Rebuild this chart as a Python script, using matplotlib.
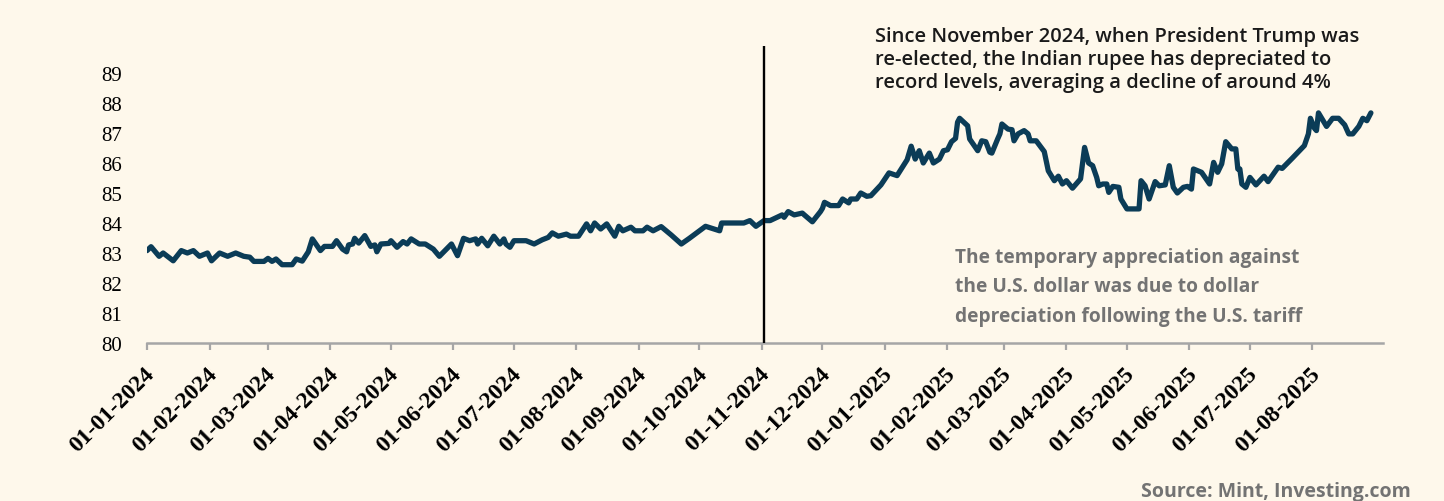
import matplotlib
matplotlib.use('Agg')
import matplotlib.pyplot as plt
import matplotlib.transforms as mtransforms
import pandas as pd

# ---------------- data ----------------
start_date = '2024-01-01'
day_offsets = [
    0, 2, 6, 8, 13, 17, 20, 23, 26, 30, 32, 36, 40, 44, 48, 51, 53, 58, 60, 62,
    64, 67, 72, 74, 77, 80, 82, 86, 88, 92, 94, 97, 99, 100, 102, 103, 105, 108,
    111, 113, 114, 116, 120, 121, 124, 127, 129, 131, 135, 138, 142, 145, 151,
    154, 157, 160, 163, 164, 166, 169,
    172, 175, 177, 178, 180, 182, 188, 192, 196, 199, 201, 204, 208, 210, 214,
    218, 220, 222, 225, 228, 232, 234, 236, 240, 242, 246, 248, 251, 255, 260,
    265, 269, 273, 277, 284, 285, 296, 299, 302, 306, 309,
    315, 316, 318, 321, 325, 326, 330, 334, 335, 336, 339, 343, 345, 348, 349,
    352, 354, 357, 359, 364, 368, 372, 377, 379, 381, 383, 385, 388, 390, 393,
    395, 397, 399, 401, 402, 403, 407, 408, 412, 414, 416, 418, 419, 422, 423,
    424, 427, 429, 430, 432, 435, 437, 438, 441, 445, 447, 450, 452,
    454, 456, 459, 463, 465, 467, 469, 471, 472, 474, 476, 477, 479, 482, 483,
    486, 492, 493, 495, 497, 500, 502, 505, 507, 509, 511, 514, 516, 518, 519,
    523, 527, 529, 531, 533, 535, 538, 540, 541, 542, 543, 545, 547, 550, 553,
    554, 556, 561, 563, 568, 574, 576, 577, 579, 580, 581, 585, 588, 591, 594,
    596, 598, 601, 603, 605, 607,
]
usd_inr = [
    83.08, 83.21, 82.89, 83.00, 82.74, 83.08, 83.00, 83.08, 82.89, 83.00, 82.74,
    83.00, 82.89, 83.00, 82.89, 82.86, 82.72, 82.72, 82.82, 82.72, 82.80, 82.61,
    82.61, 82.80, 82.73, 83.04, 83.47, 83.08, 83.22, 83.22, 83.41, 83.13, 83.04,
    83.27, 83.30, 83.49, 83.33, 83.58, 83.22, 83.27, 83.04, 83.30, 83.32, 83.41,
    83.19, 83.38, 83.30, 83.47, 83.30, 83.30, 83.13, 82.89, 83.30, 82.91, 83.49,
    83.41, 83.47, 83.30, 83.49, 83.24,
    83.56, 83.30, 83.47, 83.30, 83.19, 83.41, 83.41, 83.30, 83.44, 83.52, 83.67,
    83.56, 83.63, 83.56, 83.56, 83.97, 83.74, 84.00, 83.80, 83.97, 83.56, 83.89,
    83.74, 83.86, 83.74, 83.74, 83.86, 83.74, 83.88, 83.60, 83.30, 83.49, 83.69,
    83.89, 83.74, 84.00, 84.00, 84.08, 83.89, 84.08, 84.08,
    84.27, 84.19, 84.38, 84.27, 84.33, 84.27, 84.04, 84.38, 84.49, 84.69, 84.58,
    84.58, 84.80, 84.67, 84.80, 84.80, 85.00, 84.89, 84.91, 85.27, 85.67, 85.58,
    86.11, 86.56, 86.13, 86.41, 86.00, 86.33, 86.00, 86.13, 86.41, 86.44, 86.71,
    86.82, 87.36, 87.49, 87.24, 86.80, 86.41, 86.74, 86.71, 86.36, 86.33, 86.82,
    86.97, 87.30, 87.13, 87.11, 86.74, 86.97, 87.08, 86.97, 86.74, 86.74, 86.38,
    85.74, 85.41, 85.56,
    85.30, 85.41, 85.16, 85.47, 86.52, 86.00, 85.91, 85.52, 85.24, 85.30, 85.30,
    85.02, 85.22, 85.19, 84.80, 84.47, 84.47, 85.41, 85.24, 84.80, 85.38, 85.24,
    85.27, 85.91, 85.19, 85.00, 85.19, 85.22, 85.13, 85.80, 85.69, 85.30, 86.02,
    85.69, 85.97, 86.71, 86.47, 86.47, 85.80, 85.80, 85.30, 85.19, 85.52, 85.27,
    85.49, 85.56, 85.38, 85.86, 85.82, 86.16, 86.58, 86.97, 87.49, 87.16, 87.08,
    87.67, 87.22, 87.49, 87.49, 87.27, 86.97, 86.97, 87.22, 87.49, 87.41, 87.67,
]
tick_months = pd.date_range('2024-01-01', '2025-08-01', freq='MS')
tick_labels = [d.strftime('%d-%m-%Y') for d in tick_months]
y_ticks = list(range(80, 90))
election_date = '2024-11-02'
annotation_main = [
    'Since November 2024, when President Trump was',
    're-elected, the Indian rupee has depreciated to',
    'record levels, averaging a decline of around 4%',
]
annotation_note = [
    'The temporary appreciation against',
    'the U.S. dollar was due to dollar',
    'depreciation following the U.S. tariff',
]
source_text = 'Source: Mint, Investing.com'

# ---------------- figure ----------------
dates = pd.Timestamp(start_date) + pd.to_timedelta(day_offsets, unit='D')

W, H = 1444, 502
BG = '#FEF8EB'
fig = plt.figure(figsize=(W / 100, H / 100), dpi=100)
fig.patch.set_facecolor(BG)

ax = fig.add_axes([147 / W, 1 - 344 / H, (1383 - 147) / W, 297 / H])
ax.set_facecolor(BG)

ax.plot(dates, usd_inr, color='#0B3C57', lw=3.8,
        solid_joinstyle='round', solid_capstyle='round', zorder=3)
ax.axvline(pd.Timestamp(election_date), color='black', lw=1.7, zorder=4)

ax.set_ylim(80, 89.9)
ax.set_xlim(pd.Timestamp('2024-01-01'), pd.Timestamp('2025-09-05'))

for s in ('left', 'top', 'right'):
    ax.spines[s].set_visible(False)
ax.spines['bottom'].set_color('#A6A6A6')
ax.spines['bottom'].set_linewidth(1.8)

ax.set_yticks(y_ticks)
ax.set_yticklabels([str(v) for v in y_ticks], fontfamily='Liberation Serif',
                   fontsize=15, color='black')
ax.tick_params(axis='y', length=0, pad=18)

ax.set_xticks(tick_months)
ax.set_xticklabels(tick_labels, rotation=45, ha='right', va='top',
                   rotation_mode='anchor', fontfamily='Liberation Serif',
                   fontweight='bold', fontsize=17, color='black')
ax.tick_params(axis='x', length=5, width=1.6, color='#A6A6A6', pad=9)
offset = mtransforms.ScaledTranslation(-3 / 100, 0, fig.dpi_scale_trans)
for lab in ax.get_xticklabels():
    lab.set_transform(lab.get_transform() + offset)

# ---------------- annotations ----------------
def ftext(x, y, s, **kw):
    fig.text(x / W, 1 - y / H, s, ha='left', va='baseline', **kw)

for i, line in enumerate(annotation_main):
    ftext(875, 41.7 + i * 23.3, line, fontfamily='Open Sans', fontweight='semibold',
          fontsize=14.5, color='#1A1A1A')

for i, line in enumerate(annotation_note):
    ftext(955, 263.3 + i * 29.2, line, fontfamily='Open Sans', fontweight='bold',
          fontsize=13.8, color='#737373')

fig.text(1411 / W, 1 - 496.7 / H, source_text, ha='right', va='baseline',
         fontfamily='Open Sans', fontweight='bold', fontsize=14.0, color='#737373')

fig.savefig('out.png', dpi=100, facecolor=BG)
